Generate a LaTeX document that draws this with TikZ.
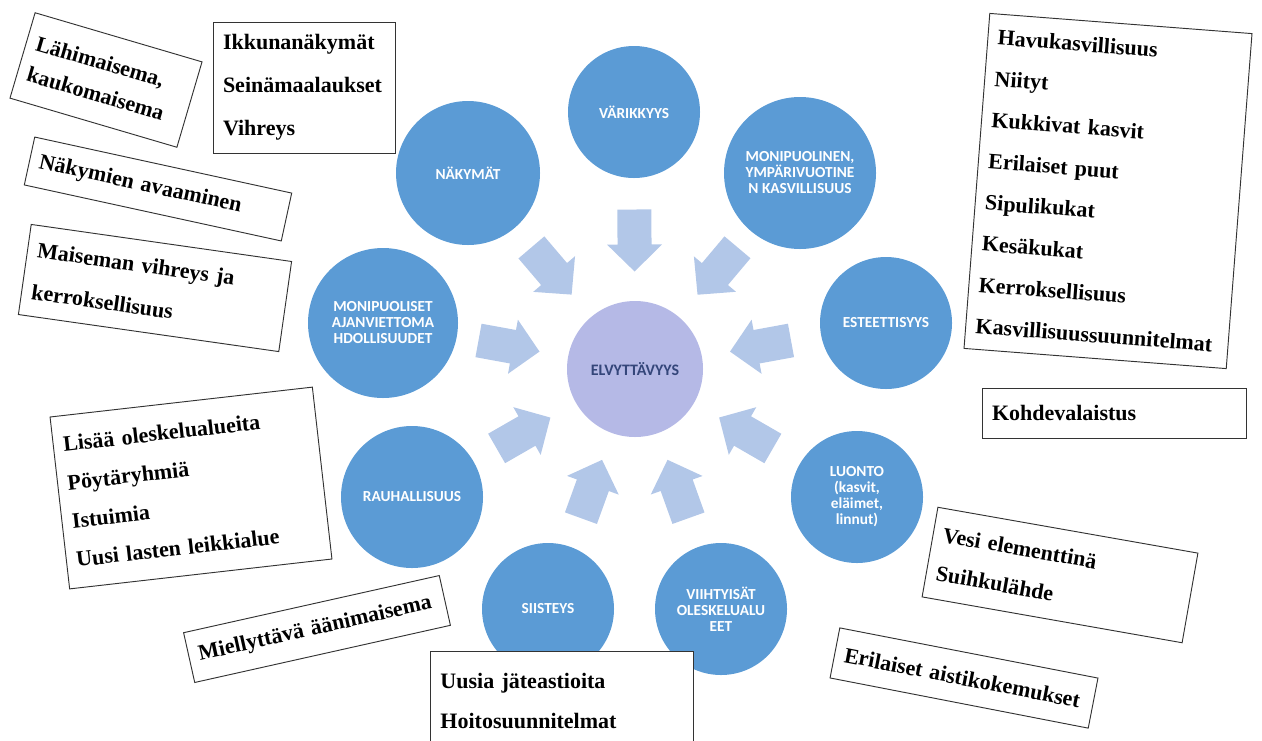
\documentclass[tikz,border=0pt]{standalone}
\usepackage{fontspec}
\setmainfont{Liberation Serif}
\newfontfamily\circfont{Carlito}
\usetikzlibrary{calc}
\definecolor{circblue}{HTML}{5B9BD5}
\definecolor{centerfill}{HTML}{B5B9E6}
\definecolor{arrowfill}{HTML}{B2C7E8}
\definecolor{centertext}{HTML}{34467A}
\begin{document}
\begin{tikzpicture}[x=0.75pt, y=-0.75pt,
  outer/.style={circle, fill=circblue, inner sep=0pt, text=white, align=center,
    font=\circfont\bfseries\fontsize{11.5}{12}\selectfont},
  hub/.style={circle, fill=centerfill, inner sep=0pt, text=centertext, align=center,
    font=\circfont\bfseries\fontsize{12}{13}\selectfont},
  box/.style={draw=black!80, line width=0.7pt, fill=white, align=left,
    inner xsep=7.5pt, inner ysep=0pt, text=black},
  bfont/.style={font=\bfseries\fontsize{16.5}{#1}\selectfont},
  blockarrow/.pic={\fill[arrowfill] (-31,-17) -- (4,-17) -- (4,-27.5) -- (31,0) -- (4,27.5) -- (4,17) -- (-31,17) -- cycle;}
]
\useasboundingbox (0,0) rectangle (1262,740);
\clip (0,0) rectangle (1262,740);

% circles
\node[outer, minimum size=99pt] (vari) at (634,112) {VÄRIKKYYS};
\node[outer, minimum size=108pt] (nak) at (468,173) {NÄKYMÄT};
\node[outer, minimum size=114pt] (monen) at (800,173) {MONIPUOLINEN,\\YMPÄRIVUOTINE\\N KASVILLISUUS};
\node[outer, minimum size=99pt] (este) at (886,323) {ESTEETTISYYS};
\node[outer, minimum size=112.5pt] (moset) at (383,323) {MONIPUOLISET\\AJANVIETTOMA\\HDOLLISUUDET};
\node[outer, minimum size=106.5pt] (rauha) at (412,497) {RAUHALLISUUS};
\node[outer, minimum size=99pt] (siist) at (548,609) {SIISTEYS};
\node[outer, minimum size=99pt] (viiht) at (721,609) {VIIHTYISÄT\\OLESKELUALU\\EET};
\node[outer, minimum size=99pt] (luonto) at (857,497) {LUONTO\\(kasvit,\\eläimet,\\linnut)};
\node[hub, minimum size=102pt] (elvy) at (635,369) {ELVYTTÄVYYS};

% block arrows
\foreach \o in {vari,nak,monen,este,moset,rauha,siist,viiht,luonto}
  \path let \p1=($(elvy.center)-(\o.center)$), \n1={atan2(\y1,\x1)} in
    pic[rotate=\n1] at ($(\o.center)!0.5!(elvy.center)$) {blockarrow};

% text boxes
\node[box, bfont=24pt, rotate=-16.4, text width=115.5pt, minimum height=66.75pt] (b1) at (106,80) {Lähimaisema,\\kaukomaisema};
\node[box, bfont=32.25pt, text width=121.5pt, minimum height=98.25pt] (b2) at (304,87.5) {Ikkunanäkymät\\Seinämaalaukset\\Vihreys};
\node[box, bfont=24pt, rotate=-12.3, text width=182.25pt, minimum height=36.75pt] (b3) at (158,189) {Näkymien avaaminen};
\node[box, bfont=31.5pt, rotate=-8.1, text width=182.25pt, minimum height=68.25pt] (b4) at (155,288) {Maiseman vihreys ja\\kerroksellisuus};
\node[box, bfont=29pt, rotate=6.5, text width=183pt, minimum height=129.75pt] (b5) at (191,488) {Lisää oleskelualueita\\Pöytäryhmiä\\Istuimia\\Uusi lasten leikkialue};
\node[box, bfont=24pt, rotate=12.6, text width=181.5pt, minimum height=38.25pt] (b6) at (317,629) {Miellyttävä äänimaisema};
\node[box, bfont=30pt, anchor=north west, text width=182.25pt, minimum height=75pt] (b7) at (430,651) {Uusia jäteastioita\\Hoitosuunnitelmat};
\node[box, bfont=31pt, rotate=-4.4, text width=182.25pt, minimum height=252pt] (b8) at (1108,191) {Havukasvillisuus\\Niityt\\Kukkivat kasvit\\Erilaiset puut\\Sipulikukat\\Kesäkukat\\Kerroksellisuus\\Kasvillisuussuunnitelmat};
\node[box, bfont=24pt, text width=183pt, minimum height=37.5pt] (b9) at (1114,413) {Kohdevalaistus};
\node[box, bfont=29.25pt, rotate=-10, text width=183pt, minimum height=68.25pt] (b10) at (1060,575) {Vesi elementtinä\\Suihkulähde};
\node[box, bfont=24pt, rotate=-11, text width=182.25pt, minimum height=38.25pt] (b11) at (964,678) {Erilaiset aistikokemukset};
\end{tikzpicture}
\end{document}
